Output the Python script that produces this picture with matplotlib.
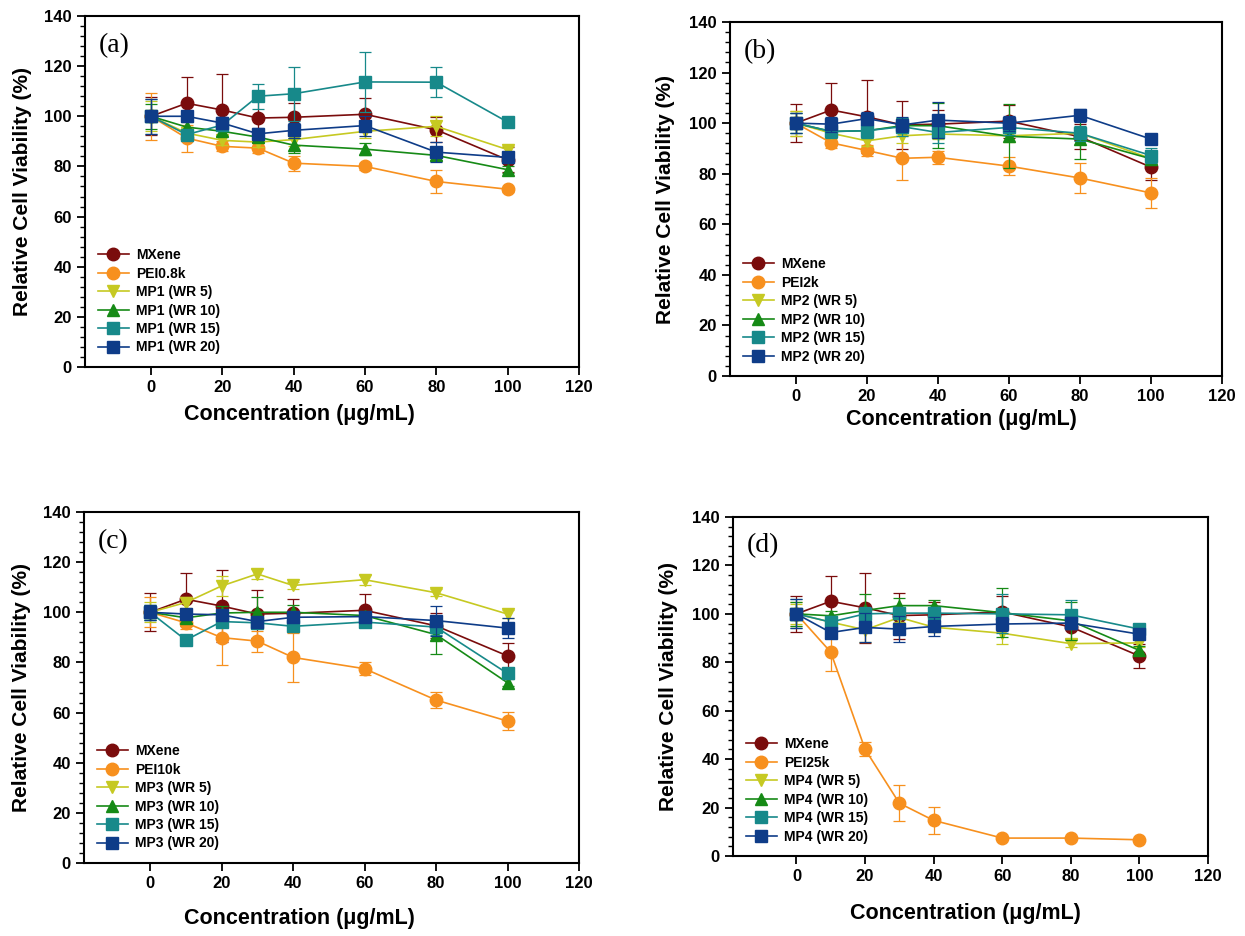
import numpy as np
import matplotlib
matplotlib.use("Agg")
import matplotlib.pyplot as plt
from matplotlib.ticker import MultipleLocator

plt.rcParams['font.family'] = ['Liberation Sans', 'DejaVu Sans']
plt.rcParams['font.weight'] = 'bold'

# concentrations (ug/mL)
conc = [0, 10, 20, 30, 40, 60, 80, 100]

# MXene is the same control in every panel
mxene = [100, 105.2, 102.5, 99.3, 99.6, 100.8, 94.6, 82.6]
mxene_err = [7.5, 10.5, 14.5, 9.5, 5.5, 6.5, 5.0, 5.0]

# panel (a)
pei_a = [100, 91.3, 88.0, 87.3, 81.3, 80.0, 74.0, 70.9]
pei_a_err = [9.3, 5.4, 2.0, 2.0, 3.0, 1.5, 4.5, 1.0]
wr5_a = [100, 93.3, 90.4, 89.7, 90.7, 94.0, 96.0, 86.7]
wr5_a_err = [6.0, 2.5, 2.0, 2.0, 2.5, 2.5, 4.0, 1.5]
wr10_a = [100, 95.7, 94.0, 91.7, 88.5, 86.9, 84.4, 78.7]
wr10_a_err = [5.0, 2.0, 2.0, 2.0, 3.0, 2.5, 2.0, 1.5]
wr15_a = [100, 92.7, 96.5, 108.0, 109.0, 113.7, 113.6, 97.7]
wr15_a_err = [7.0, 2.0, 2.0, 5.0, 10.7, 12.0, 6.0, 1.0]
wr20_a = [100, 100.0, 97.3, 93.0, 94.4, 96.3, 85.7, 83.6]
wr20_a_err = [7.0, 2.0, 2.5, 2.5, 3.0, 4.0, 4.0, 2.0]

# panel (b)
pei_b = [100, 92.2, 89.2, 86.1, 86.5, 83.0, 78.3, 72.4]
pei_b_err = [5.0, 2.0, 2.0, 8.7, 2.5, 3.5, 6.0, 6.0]
wr5_b = [100, 96.0, 93.0, 95.0, 95.7, 95.0, 96.0, 86.0]
wr5_b_err = [5.0, 2.0, 2.0, 3.0, 2.0, 2.5, 2.0, 2.0]
wr10_b = [100, 96.7, 97.0, 99.0, 99.0, 94.8, 93.7, 85.9]
wr10_b_err = [4.0, 2.0, 3.0, 3.0, 9.0, 12.7, 7.8, 2.5]
wr15_b = [100, 96.7, 97.0, 98.6, 96.3, 98.3, 96.0, 87.2]
wr15_b_err = [4.0, 2.5, 3.0, 3.5, 4.0, 3.0, 3.0, 3.0]
wr20_b = [100, 99.6, 101.8, 99.3, 101.2, 100.0, 103.1, 93.7]
wr20_b_err = [4.0, 3.0, 2.5, 3.0, 7.0, 3.0, 2.5, 1.5]

# panel (c)
pei_c = [100, 95.8, 89.9, 88.5, 82.0, 77.5, 65.0, 56.6]
pei_c_err = [6.0, 2.5, 11.0, 4.2, 9.8, 2.5, 3.2, 3.7]
wr5_c = [100, 103.9, 110.5, 115.3, 110.7, 113.0, 107.8, 99.3]
wr5_c_err = [4.0, 2.0, 4.0, 2.0, 1.5, 2.0, 1.5, 1.5]
wr10_c = [100, 97.8, 99.7, 100.0, 100.0, 98.7, 91.1, 71.9]
wr10_c_err = [3.0, 2.0, 3.0, 6.0, 3.0, 2.0, 7.6, 1.5]
wr15_c = [100, 88.9, 96.3, 95.8, 94.4, 96.1, 94.1, 75.6]
wr15_c_err = [3.0, 2.0, 2.0, 2.0, 2.0, 2.0, 3.0, 1.5]
wr20_c = [100, 99.3, 99.0, 96.3, 98.0, 98.3, 96.7, 93.7]
wr20_c_err = [3.0, 2.0, 2.0, 2.0, 2.0, 2.0, 6.0, 4.0]

# panel (d)
pei_d = [100, 84.2, 44.1, 21.8, 14.7, 7.4, 7.4, 6.7]
pei_d_err = [5.0, 8.0, 2.9, 7.5, 5.6, 0.5, 0.5, 0.5]
wr5_d = [100, 96.6, 93.4, 98.5, 94.5, 92.0, 87.7, 88.0]
wr5_d_err = [4.0, 2.0, 5.0, 2.0, 2.0, 4.5, 1.5, 1.5]
wr10_d = [100, 99.2, 101.4, 103.4, 103.4, 100.5, 97.1, 84.9]
wr10_d_err = [5.0, 2.0, 7.0, 3.0, 2.5, 10.0, 8.0, 2.0]
wr15_d = [100, 96.6, 100.0, 100.3, 100.3, 100.0, 99.6, 93.7]
wr15_d_err = [6.0, 2.5, 3.0, 2.5, 2.5, 8.0, 6.0, 1.5]
wr20_d = [100, 92.3, 94.4, 93.7, 94.8, 95.8, 96.2, 91.6]
wr20_d_err = [6.0, 2.0, 6.0, 5.5, 4.0, 3.0, 2.5, 1.5]

colors = ['#7A0C0C', '#F7901E', '#C6C922', '#168A16', '#17898A', '#0E3C88']
markers = ['o', 'o', 'v', '^', 's', 's']

# tag, PEI name, MP name, axes box (px: left, right, top, bottom), xlabel (x, y), ylabel x
panels = [
    ('(a)', 'PEI0.8k', 'MP1', [85, 579, 16, 367], (0.435, -0.105), -0.107,
     [pei_a, wr5_a, wr10_a, wr15_a, wr20_a],
     [pei_a_err, wr5_a_err, wr10_a_err, wr15_a_err, wr20_a_err]),
    ('(b)', 'PEI2k', 'MP2', [730, 1222, 22, 376], (0.47, -0.092), -0.112,
     [pei_b, wr5_b, wr10_b, wr15_b, wr20_b],
     [pei_b_err, wr5_b_err, wr10_b_err, wr15_b_err, wr20_b_err]),
    ('(c)', 'PEI10k', 'MP3', [84, 579, 512, 863], (0.435, -0.128), -0.107,
     [pei_c, wr5_c, wr10_c, wr15_c, wr20_c],
     [pei_c_err, wr5_c_err, wr10_c_err, wr15_c_err, wr20_c_err]),
    ('(d)', 'PEI25k', 'MP4', [733, 1208, 517, 856], (0.49, -0.138), -0.116,
     [pei_d, wr5_d, wr10_d, wr15_d, wr20_d],
     [pei_d_err, wr5_d_err, wr10_d_err, wr15_d_err, wr20_d_err]),
]

W, H = 1245, 936
fig = plt.figure(figsize=(W / 100, H / 100), dpi=100)

for tag, pei_name, mp_name, box, xlab_xy, ylab_x, series, errs in panels:
    l, r, t, b = box
    ax = fig.add_axes([l / W, 1 - b / H, (r - l) / W, (b - t) / H])

    names = ['MXene', pei_name] + [f'{mp_name} (WR {w})' for w in (5, 10, 15, 20)]
    vals = [mxene] + series
    errv = [mxene_err] + errs
    for name, y, e, c, m in zip(names, vals, errv, colors, markers):
        # error bars first, then line + marker on top (legend shows line only)
        ax.errorbar(conc, y, yerr=e, fmt='none', ecolor=c, elinewidth=0.9,
                    capsize=4, capthick=0.9)
        ax.plot(conc, y, color=c, marker=m, markersize=9, linewidth=1.2,
                label=name)

    ax.set_xlim(-18.5, 120)
    ax.set_ylim(0, 140)
    ax.yaxis.set_major_locator(MultipleLocator(20))
    ax.yaxis.set_minor_locator(MultipleLocator(4))
    ax.set_xticks([0, 20, 40, 60, 80, 100, 120])
    ax.tick_params(axis='both', which='major', direction='out', length=6,
                   width=1.3, labelsize=12, top=False, right=False)
    ax.tick_params(axis='y', which='minor', direction='out', length=3.5, width=1.0)
    for lbl in ax.get_xticklabels() + ax.get_yticklabels():
        lbl.set_fontweight('bold')
    for sp in ax.spines.values():
        sp.set_linewidth(1.5)

    ax.set_xlabel('Concentration (\u03bcg/mL)', fontsize=15.5, fontweight='bold')
    ax.xaxis.set_label_coords(*xlab_xy)
    ax.set_ylabel('Relative Cell Viability (%)', fontsize=15, fontweight='bold')
    ax.yaxis.set_label_coords(ylab_x, 0.5)

    ax.text(0.028, 0.915, tag, transform=ax.transAxes, fontsize=20,
            family=['Liberation Serif', 'DejaVu Serif'], fontweight='normal',
            va='center', ha='left')

    leg = ax.legend(loc='lower left', frameon=False, fontsize=10,
                    handlelength=2.3, handletextpad=0.5, labelspacing=0.32,
                    borderaxespad=0.7, borderpad=0.2)
    for txt in leg.get_texts():
        txt.set_fontweight('bold')

fig.savefig('out.png', dpi=100)
